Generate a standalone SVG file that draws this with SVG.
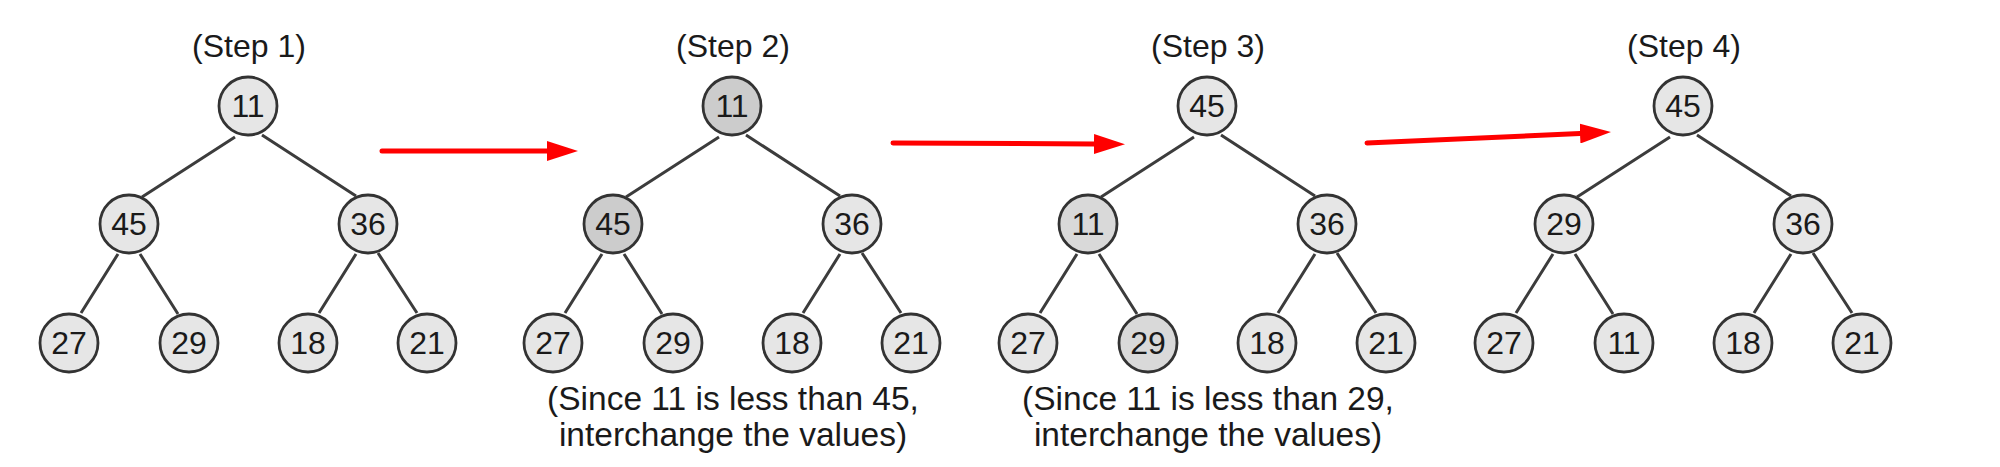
<svg xmlns="http://www.w3.org/2000/svg" width="2000" height="467" viewBox="0 0 2000 467">
<defs>
<style>
.n circle{stroke:#333;stroke-width:2.8;fill:#e6e6e6}
.n text{font-family:"Liberation Sans",Arial,sans-serif;font-size:32px;fill:#1a1a1a;text-anchor:middle}
.n.d circle{fill:#cccccc}
.n.m circle{fill:#d9d9d9}
.lbl{font-family:"Liberation Sans",Arial,sans-serif;font-size:32px;fill:#1a1a1a;text-anchor:middle}
.cap{font-size:33.5px}
.e{stroke:#3c3c3c;stroke-width:3;fill:none}
.arr{stroke:#ff0000;stroke-width:5;stroke-linecap:round;fill:none}
</style>
<marker id="ah" markerUnits="userSpaceOnUse" markerWidth="32" markerHeight="20" refX="0" refY="10" orient="auto" viewBox="0 0 32 20">
<path d="M0,0 L31,10 L0,20 z" fill="#ff0000"/>
</marker>
</defs>
<g id="connectors">
<path class="e" d="M235,137L142,197M262,135L356,196M118,254L81,313M140,254L178,314M356,254L319,313M378,253L417,313"/>
<path class="e" transform="translate(484,0)" d="M235,137L142,197M262,135L356,196M118,254L81,313M140,254L178,314M356,254L319,313M378,253L417,313"/>
<path class="e" transform="translate(959,0)" d="M235,137L142,197M262,135L356,196M118,254L81,313M140,254L178,314M356,254L319,313M378,253L417,313"/>
<path class="e" transform="translate(1435,0)" d="M235,137L142,197M262,135L356,196M118,254L81,313M140,254L178,314M356,254L319,313M378,253L417,313"/>
<line class="arr" x1="382" y1="151" x2="547" y2="151" marker-end="url(#ah)"/>
<line class="arr" x1="893" y1="143" x2="1094" y2="144" marker-end="url(#ah)"/>
<line class="arr" x1="1367" y1="143" x2="1580" y2="133.5" marker-end="url(#ah)"/>
</g>
<g id="labels">
<text class="lbl" x="249" y="57">(Step 1)</text>
<text class="lbl" x="733" y="57">(Step 2)</text>
<text class="lbl" x="1208" y="57">(Step 3)</text>
<text class="lbl" x="1684" y="57">(Step 4)</text>
<text class="lbl cap" x="733" y="410">(Since 11 is less than 45,</text>
<text class="lbl cap" x="733" y="446">interchange the values)</text>
<text class="lbl cap" x="1208" y="410">(Since 11 is less than 29,</text>
<text class="lbl cap" x="1208" y="446">interchange the values)</text>
</g>
<g id="s1-root" class="n"><circle cx="248" cy="106" r="29"/><text x="248" y="117">11</text></g>
<g id="s1-l" class="n"><circle cx="129" cy="224" r="29"/><text x="129" y="235">45</text></g>
<g id="s1-r" class="n"><circle cx="368" cy="224" r="29"/><text x="368" y="235">36</text></g>
<g id="s1-ll" class="n"><circle cx="69" cy="343" r="29"/><text x="69" y="354">27</text></g>
<g id="s1-lr" class="n"><circle cx="189" cy="343" r="29"/><text x="189" y="354">29</text></g>
<g id="s1-rl" class="n"><circle cx="308" cy="343" r="29"/><text x="308" y="354">18</text></g>
<g id="s1-rr" class="n"><circle cx="427" cy="343" r="29"/><text x="427" y="354">21</text></g>
<g id="s2-root" class="n d"><circle cx="732" cy="106" r="29"/><text x="732" y="117">11</text></g>
<g id="s2-l" class="n d"><circle cx="613" cy="224" r="29"/><text x="613" y="235">45</text></g>
<g id="s2-r" class="n"><circle cx="852" cy="224" r="29"/><text x="852" y="235">36</text></g>
<g id="s2-ll" class="n"><circle cx="553" cy="343" r="29"/><text x="553" y="354">27</text></g>
<g id="s2-lr" class="n"><circle cx="673" cy="343" r="29"/><text x="673" y="354">29</text></g>
<g id="s2-rl" class="n"><circle cx="792" cy="343" r="29"/><text x="792" y="354">18</text></g>
<g id="s2-rr" class="n"><circle cx="911" cy="343" r="29"/><text x="911" y="354">21</text></g>
<g id="s3-root" class="n"><circle cx="1207" cy="106" r="29"/><text x="1207" y="117">45</text></g>
<g id="s3-l" class="n m"><circle cx="1088" cy="224" r="29"/><text x="1088" y="235">11</text></g>
<g id="s3-r" class="n"><circle cx="1327" cy="224" r="29"/><text x="1327" y="235">36</text></g>
<g id="s3-ll" class="n"><circle cx="1028" cy="343" r="29"/><text x="1028" y="354">27</text></g>
<g id="s3-lr" class="n m"><circle cx="1148" cy="343" r="29"/><text x="1148" y="354">29</text></g>
<g id="s3-rl" class="n"><circle cx="1267" cy="343" r="29"/><text x="1267" y="354">18</text></g>
<g id="s3-rr" class="n"><circle cx="1386" cy="343" r="29"/><text x="1386" y="354">21</text></g>
<g id="s4-root" class="n"><circle cx="1683" cy="106" r="29"/><text x="1683" y="117">45</text></g>
<g id="s4-l" class="n"><circle cx="1564" cy="224" r="29"/><text x="1564" y="235">29</text></g>
<g id="s4-r" class="n"><circle cx="1803" cy="224" r="29"/><text x="1803" y="235">36</text></g>
<g id="s4-ll" class="n"><circle cx="1504" cy="343" r="29"/><text x="1504" y="354">27</text></g>
<g id="s4-lr" class="n"><circle cx="1624" cy="343" r="29"/><text x="1624" y="354">11</text></g>
<g id="s4-rl" class="n"><circle cx="1743" cy="343" r="29"/><text x="1743" y="354">18</text></g>
<g id="s4-rr" class="n"><circle cx="1862" cy="343" r="29"/><text x="1862" y="354">21</text></g>
</svg>
